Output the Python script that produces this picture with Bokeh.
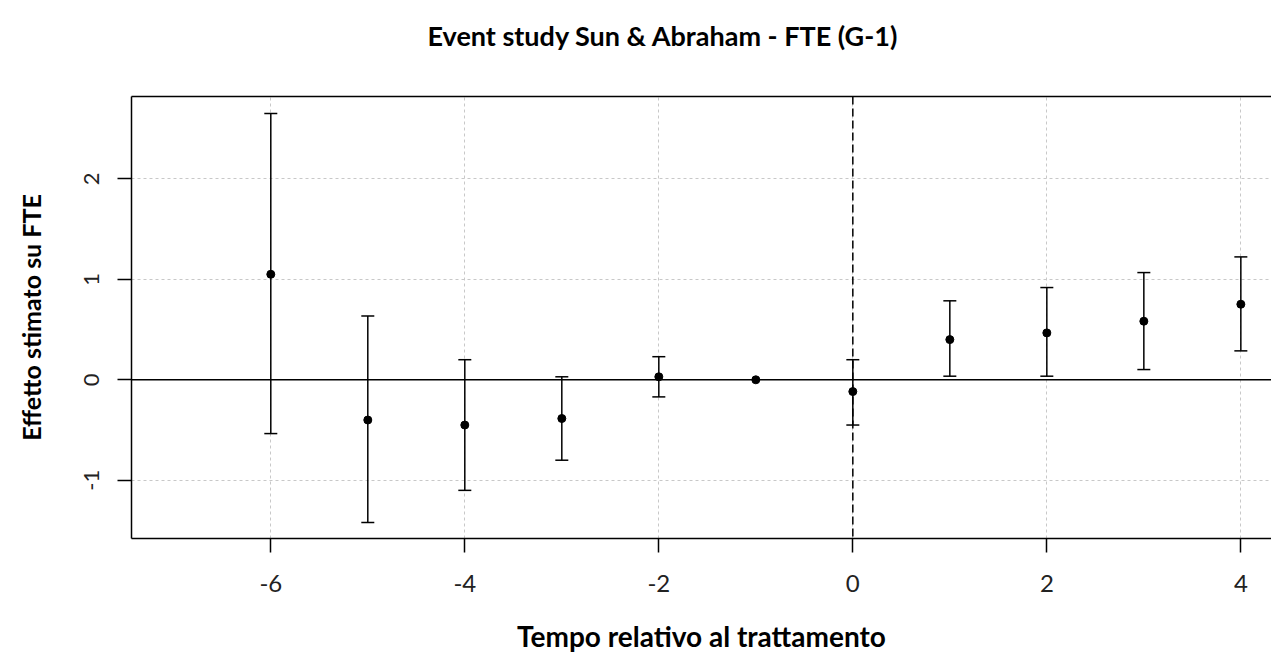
import numpy as np
from bokeh.plotting import figure
from bokeh.models import ColumnDataSource, Whisker, TeeHead, Span, FixedTicker, Range1d, LinearAxis, Title
from bokeh.embed import file_html
from bokeh.resources import INLINE

# ---- data ----
event_time = [-6, -5, -4, -3, -2, -1, 0, 1, 2, 3, 4]
estimate = [1.05, -0.40, -0.45, -0.385, 0.03, 0.0, -0.117, 0.40, 0.467, 0.583, 0.752]
ci_low = [-0.535, -1.42, -1.10, -0.80, -0.17, np.nan, -0.45, 0.036, 0.036, 0.102, 0.288]
ci_high = [2.65, 0.635, 0.20, 0.03, 0.23, np.nan, 0.20, 0.786, 0.918, 1.067, 1.223]
x_ticks = [-6, -4, -2, 0, 2, 4]
x_tick_labels = ["-6", "-4", "-2", "0", "2", "4"]
y_ticks = [-1, 0, 1, 2]
y_tick_labels = ["-1", "0", "1", "2"]

title_text = "Event study Sun & Abraham - FTE (G-1)"
x_label = "Tempo relativo al trattamento"
y_label = "Effetto stimato su FTE"

FONT = "Lato"

p = figure(width=1271, height=661, output_backend="svg", toolbar_location=None,
           x_range=Range1d(-7.436, 4.316), y_range=Range1d(-1.579, 2.819),
           min_border_left=131, min_border_right=0, min_border_top=96, min_border_bottom=123)
p.outline_line_color = None
p.background_fill_color = "white"
p.border_fill_color = "white"

# grid
for g in (p.xgrid, p.ygrid):
    g.grid_line_color = "#c8c8c8"
    g.grid_line_dash = "3 3"
    g.grid_line_width = 1
p.xgrid.ticker = FixedTicker(ticks=x_ticks)
p.ygrid.ticker = FixedTicker(ticks=y_ticks)

# axes
xa = p.xaxis[0]
ya = p.yaxis[0]
xa.ticker = FixedTicker(ticks=x_ticks)
ya.ticker = FixedTicker(ticks=y_ticks)
xa.major_label_overrides = {t: s for t, s in zip(x_ticks, x_tick_labels)}
ya.major_label_overrides = {t: s for t, s in zip(y_ticks, y_tick_labels)}
for ax in (xa, ya):
    ax.axis_line_color = "black"
    ax.axis_line_width = 1.5
    ax.major_tick_line_color = "black"
    ax.major_tick_line_width = 1.5
    ax.major_tick_out = 14
    ax.major_tick_in = 0
    ax.minor_tick_line_color = None
    ax.major_label_text_font = FONT
    ax.major_label_text_color = "#222222"
    ax.axis_label_text_font = FONT
    ax.axis_label_text_font_style = "bold"
    ax.axis_label_text_color = "black"

xa.major_label_text_font_size = "24px"
xa.major_label_standoff = 22
xa.axis_label = x_label
xa.axis_label_text_font_size = "28px"
xa.axis_label_standoff = 24

ya.major_label_text_font_size = "22px"
ya.major_label_orientation = "vertical"
ya.major_label_standoff = 18
ya.axis_label = y_label
ya.axis_label_text_font_size = "25px"
ya.axis_label_standoff = 36

top_axis = LinearAxis(ticker=FixedTicker(ticks=[]), major_label_text_font_size="0px",
                      axis_line_color="black", axis_line_width=1.5,
                      major_tick_line_color=None, minor_tick_line_color=None)
p.add_layout(top_axis, "above")

# title (a blank second line gives it the room to sit higher above the frame)
t = Title(text=title_text + "\n ", text_font=FONT, text_font_style="bold", text_font_size="27px",
          align="left", offset=296, standoff=20, vertical_align="top", text_color="black")
p.add_layout(t, "above")

# reference lines
p.add_layout(Span(location=0, dimension="width", line_color="black", line_width=1.5))
p.add_layout(Span(location=0, dimension="height", line_color="black", line_width=1.5, line_dash="8 4"))

# error bars
mask = [not (np.isnan(lo) or np.isnan(hi)) for lo, hi in zip(ci_low, ci_high)]
err_src = ColumnDataSource(data=dict(
    x=[e for e, m in zip(event_time, mask) if m],
    lower=[v for v, m in zip(ci_low, mask) if m],
    upper=[v for v, m in zip(ci_high, mask) if m],
))
w = Whisker(source=err_src, base="x", lower="lower", upper="upper", dimension="height",
            line_color="black", line_width=1.5,
            upper_head=TeeHead(size=13, line_color="black", line_width=1.5),
            lower_head=TeeHead(size=13, line_color="black", line_width=1.5))
p.add_layout(w)

pt_src = ColumnDataSource(data=dict(x=event_time, y=estimate))
p.scatter("x", "y", source=pt_src, size=8, color="black")

open("out.html", "w").write(file_html(p, INLINE))
